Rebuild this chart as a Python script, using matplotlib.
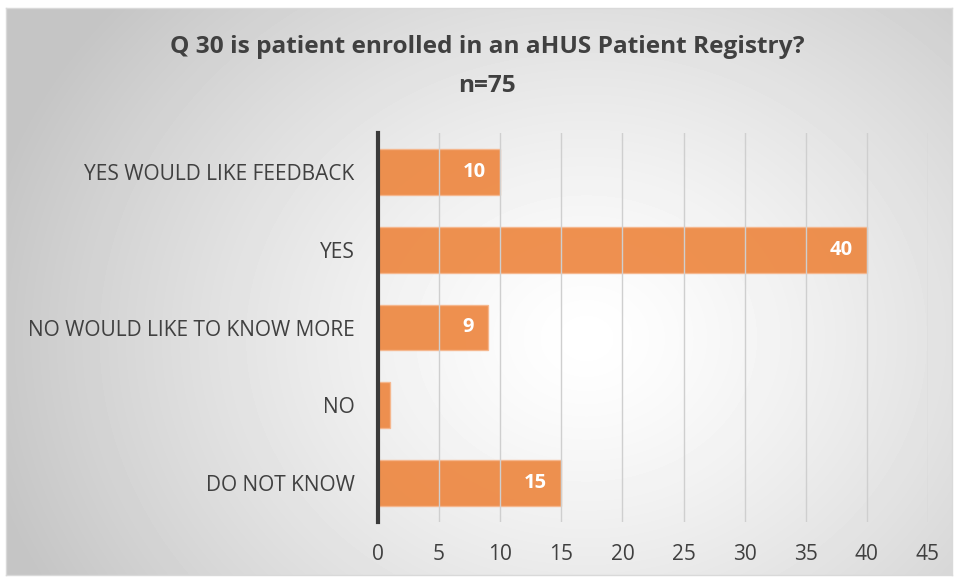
import matplotlib.pyplot as plt
import numpy as np

# datos de la encuesta
categorias = ["YES WOULD LIKE FEEDBACK", "YES", "NO WOULD LIKE TO KNOW MORE", "NO", "DO NOT KNOW"]
valores = [10, 40, 9, 1, 15]
ticks_x = [0, 5, 10, 15, 20, 25, 30, 35, 40, 45]

plt.rcParams['font.family'] = ['Open Sans', 'DejaVu Sans']
gris_texto = '#404040'

fig = plt.figure(figsize=(9.58, 5.79), dpi=100)

# fondo con degradado radial
fondo = fig.add_axes([6/958, 1-575/579, 946/958, 567/579])
h, w = 567, 946
yy, xx = np.mgrid[0:h, 0:w]
d = np.sqrt(((xx - 580) / 620.0) ** 2 + ((yy - 330) / 520.0) ** 2)
grad = 1 - 0.23 * np.clip(d, 0, 1) ** 1.3
fondo.imshow(grad, cmap='gray', vmin=0, vmax=1, aspect='auto', interpolation='bilinear')
fondo.set_xticks([])
fondo.set_yticks([])
for s in fondo.spines.values():
    s.set_color('#d9d9d9')
    s.set_linewidth(1)

ax = fig.add_axes([378/958, 1-522/579, 550/958, 389/579])
ax.patch.set_alpha(0)
y = np.arange(len(categorias))
ax.barh(y, valores, height=0.59, color='#ED853D', alpha=0.9,
        edgecolor='#F6B68C', linewidth=1, zorder=2)
ax.set_ylim(len(categorias) - 0.5, -0.5)
ax.set_xlim(0, 45)
ax.set_xticks(ticks_x)
ax.set_yticks(y)
ax.set_yticklabels(categorias)
ax.tick_params(axis='both', length=0, labelsize=15, colors=gris_texto)
ax.tick_params(axis='y', pad=17)
ax.tick_params(axis='x', pad=16)
ax.grid(axis='x', color='#cfcfcf', linewidth=1, zorder=1)
ax.set_axisbelow(False)
for lado in ['top', 'right', 'bottom']:
    ax.spines[lado].set_visible(False)
ax.spines['left'].set_color('#3a3a3a')
ax.spines['left'].set_linewidth(3)
ax.spines['left'].set_zorder(4)

for i, v in enumerate(valores):
    if v > 1:
        ax.text(v - 1.15, i, str(v), ha='right', va='center', color='white',
                fontsize=14.5, fontweight='bold', zorder=5)

fig.text(487/958, 1-47/579, "Q 30 is patient enrolled in an aHUS Patient Registry?",
         ha='center', va='center', fontsize=17.6, fontweight='bold', color=gris_texto)
fig.text(487/958, 1-86/579, "n=75", ha='center', va='center', fontsize=17.6,
         fontweight='bold', color=gris_texto)

fig.savefig('out.png', dpi=100)
